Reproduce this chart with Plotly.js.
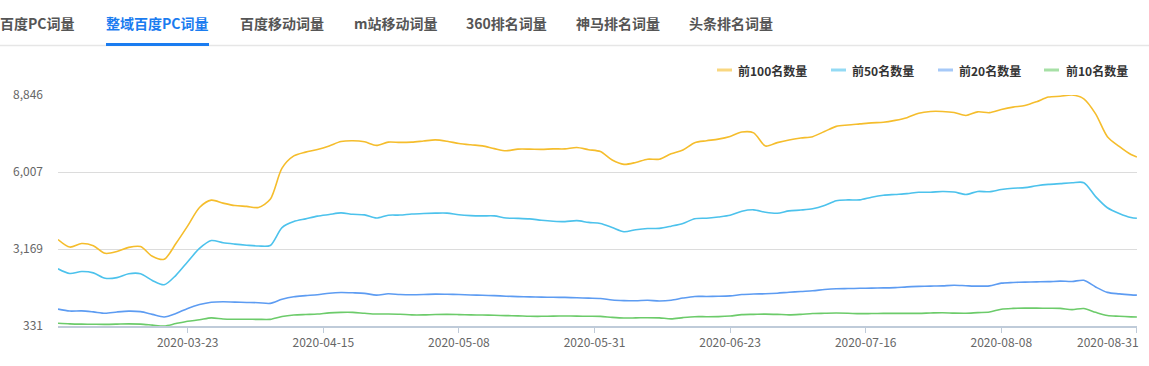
<!DOCTYPE html>
<html>
<head>
<meta charset="utf-8">
<script src="https://cdn.plot.ly/plotly-3.0.1.min.js"></script>
<style>
  html, body { margin: 0; padding: 0; background: #fff; }
  #chart { width: 1149px; height: 366px; }
</style>
</head>
<body>
<div id="chart"></div>
<script>
// ---- Data (every 2 days) ----
const dates = [
  '2020-03-01','2020-03-03','2020-03-05','2020-03-07','2020-03-09','2020-03-11','2020-03-13','2020-03-15',
  '2020-03-17','2020-03-19','2020-03-21','2020-03-23','2020-03-25','2020-03-27','2020-03-29','2020-03-31',
  '2020-04-02','2020-04-04','2020-04-06','2020-04-08','2020-04-10','2020-04-12','2020-04-14','2020-04-16',
  '2020-04-18','2020-04-20','2020-04-22','2020-04-24','2020-04-26','2020-04-28','2020-04-30',
  '2020-05-02','2020-05-04','2020-05-06','2020-05-08','2020-05-10','2020-05-12','2020-05-14','2020-05-16',
  '2020-05-18','2020-05-20','2020-05-22','2020-05-24','2020-05-26','2020-05-28','2020-05-30',
  '2020-06-01','2020-06-03','2020-06-05','2020-06-07','2020-06-09','2020-06-11','2020-06-13','2020-06-15',
  '2020-06-17','2020-06-19','2020-06-21','2020-06-23','2020-06-25','2020-06-27','2020-06-29',
  '2020-07-01','2020-07-03','2020-07-05','2020-07-07','2020-07-09','2020-07-11','2020-07-13','2020-07-15',
  '2020-07-17','2020-07-19','2020-07-21','2020-07-23','2020-07-25','2020-07-27','2020-07-29','2020-07-31',
  '2020-08-02','2020-08-04','2020-08-06','2020-08-08','2020-08-10','2020-08-12','2020-08-14','2020-08-16',
  '2020-08-18','2020-08-20','2020-08-22','2020-08-24','2020-08-26','2020-08-28','2020-08-30','2020-08-31'
];

const top100 = [
  3520,3240,3370,3290,3010,3075,3230,3260,2900,2790,3370,4020,4700,4970,4860,4770,
  4740,4700,5000,6150,6600,6740,6840,6970,7130,7160,7120,6990,7110,7100,7110,
  7150,7190,7140,7060,7010,6970,6870,6790,6850,6850,6840,6860,6860,6910,6830,
  6760,6450,6290,6360,6480,6480,6680,6820,7090,7160,7220,7320,7480,7450,6965,
  7090,7190,7260,7310,7500,7690,7740,7780,7820,7840,7910,8010,8175,8240,8240,8200,
  8090,8225,8195,8310,8400,8460,8600,8770,8800,8846,8705,8150,7310,6950,6650,6563
];

const top50 = [
  2440,2265,2340,2290,2090,2115,2260,2260,2010,1850,2200,2700,3190,3480,3400,3350,
  3310,3280,3300,3960,4180,4280,4380,4440,4500,4450,4426,4310,4414,4420,4460,
  4480,4490,4490,4430,4400,4390,4390,4310,4300,4280,4230,4195,4180,4215,4150,
  4110,3960,3805,3880,3925,3928,4010,4110,4285,4305,4350,4410,4560,4613,4525,
  4488,4575,4605,4650,4770,4950,4980,4980,5080,5150,5180,5210,5261,5261,5290,5270,
  5180,5290,5280,5360,5410,5430,5500,5550,5580,5610,5615,5100,4690,4480,4330,4302
];

const top20 = [
  955,882,890,850,800,848,880,860,760,665,790,980,1120,1205,1225,1210,
  1200,1190,1165,1315,1410,1450,1485,1540,1565,1555,1535,1469,1518,1490,1481,
  1490,1505,1500,1490,1475,1462,1450,1430,1415,1405,1395,1390,1385,1370,1357,
  1345,1290,1268,1262,1280,1255,1280,1360,1420,1420,1425,1440,1490,1510,1518,
  1540,1575,1605,1630,1675,1705,1712,1720,1726,1735,1745,1775,1790,1800,1811,1833,
  1815,1800,1811,1910,1935,1950,1958,1965,1985,1972,2015,1770,1570,1515,1480,1469
];

const top10 = [
  430,410,400,395,392,400,410,400,365,331,420,505,560,630,590,580,
  578,576,576,680,735,755,772,815,833,833,800,772,772,765,740,
  740,755,760,752,740,735,725,715,705,690,688,695,699,695,690,
  686,650,625,630,637,630,595,640,674,674,678,700,750,760,770,
  760,742,760,790,800,808,800,786,790,795,796,796,796,810,821,805,
  800,825,845,950,980,990,990,985,980,935,975,835,715,690,668,662
];

const seriesNames = ['前100名数量', '前50名数量', '前20名数量', '前10名数量'];
const tabs = ['百度PC词量', '整域百度PC词量', '百度移动词量', 'm站移动词量', '360排名词量', '神马排名词量', '头条排名词量'];
const yTickVals = [331, 3169, 6007, 8846];
const yTickText = ['331', '3,169', '6,007', '8,846'];
const xTickVals = ['2020-03-23', '2020-04-15', '2020-05-08', '2020-05-31', '2020-06-23', '2020-07-16', '2020-08-08', '2020-08-31'];
const lastTickLabel = '2020-08-31';

// ---- Styling ----
const colors = ['#f5bd2c', '#4cc2ec', '#5d9cf2', '#6ccb6a'];
const legendColors = ['rgba(245,189,44,0.6)', 'rgba(76,194,236,0.6)', 'rgba(93,156,242,0.55)', 'rgba(108,203,106,0.6)'];
const FONT = 'Noto Sans CJK SC, Microsoft YaHei, sans-serif';

const L = 58, R = 12, T = 95, B = 40, W = 1149, H = 366;
const PW = W - L - R, PH = H - T - B;
const px = x => (x - L) / PW;
const py = y => (H - B - y) / PH;

const allSeries = [top100, top50, top20, top10];
const traces = allSeries.map((vals, i) => ({
  type: 'scatter',
  mode: 'lines',
  x: dates,
  y: vals,
  name: seriesNames[i],
  line: { color: colors[i], width: 1.6, shape: 'spline', smoothing: 0.8 },
  showlegend: false,
  hoverinfo: 'skip'
}));

const tabLefts = [-2, 104, 238, 352, 464, 574, 687];
const annotations = [];
const shapes = [];

// tab bar baseline
shapes.push({ type: 'line', xref: 'paper', yref: 'paper', x0: px(0), x1: px(W), y0: py(45.5), y1: py(45.5),
  line: { color: '#e6e6e6', width: 1.5 } });
// active tab underline
shapes.push({ type: 'line', xref: 'paper', yref: 'paper', x0: px(106), x1: px(209), y0: py(44.5), y1: py(44.5),
  line: { color: '#1a7cf0', width: 3 } });

tabs.forEach((t, i) => {
  annotations.push({
    xref: 'paper', yref: 'paper', x: px(tabLefts[i]), y: py(23),
    xanchor: 'left', yanchor: 'middle', showarrow: false, text: t,
    font: { family: FONT, size: 14, color: i === 1 ? '#1a7cf0' : '#555555', weight: 'bold' }
  });
});

// custom legend
const legLineX = [717, 831, 938, 1044];
const legTextX = [736, 850, 957, 1064];
seriesNames.forEach((n, i) => {
  shapes.push({ type: 'line', xref: 'paper', yref: 'paper', x0: px(legLineX[i]), x1: px(legLineX[i] + 15),
    y0: py(70), y1: py(70), line: { color: legendColors[i], width: 3 } });
  annotations.push({
    xref: 'paper', yref: 'paper', x: px(legTextX[i]), y: py(70),
    xanchor: 'left', yanchor: 'middle', showarrow: false, text: n,
    font: { family: FONT, size: 12, color: '#333333', weight: 'bold' }
  });
});

// last x tick label, right-aligned to its tick so it stays inside the chart
annotations.push({
  xref: 'x', yref: 'paper', x: lastTickLabel, y: py(341), xanchor: 'right', yanchor: 'middle',
  xshift: 4, showarrow: false, text: lastTickLabel,
  font: { family: FONT, size: 12, color: '#666666' }
});

const layout = {
  width: W, height: H,
  margin: { l: L, r: R, t: T, b: B, pad: 0 },
  paper_bgcolor: '#ffffff', plot_bgcolor: '#ffffff',
  font: { family: FONT, size: 12, color: '#666666' },
  showlegend: false,
  hovermode: false,
  xaxis: {
    type: 'date',
    range: ['2020-03-01', '2020-08-31 00:30'],
    tickmode: 'array',
    tickvals: xTickVals,
    ticktext: xTickVals.map((d, i) => i === xTickVals.length - 1 ? '' : d),
    showgrid: false,
    zeroline: false,
    showline: true,
    linecolor: '#bfcbd9',
    linewidth: 1.5,
    ticks: 'outside',
    ticklen: 5,
    tickcolor: '#bfcbd9',
    tickwidth: 1,
    tickfont: { family: FONT, size: 12, color: '#666666' }
  },
  yaxis: {
    range: [331, 8846],
    tickmode: 'array',
    tickvals: yTickVals,
    ticktext: yTickText,
    showgrid: true,
    gridcolor: '#dcdcdc',
    gridwidth: 1,
    zeroline: false,
    showline: false,
    ticks: '',
    ticklabelstandoff: 14,
    tickfont: { family: FONT, size: 12, color: '#666666' }
  },
  annotations: annotations,
  shapes: shapes
};

Plotly.newPlot('chart', traces, layout, { displayModeBar: false, staticPlot: true });
</script>
</body>
</html>
